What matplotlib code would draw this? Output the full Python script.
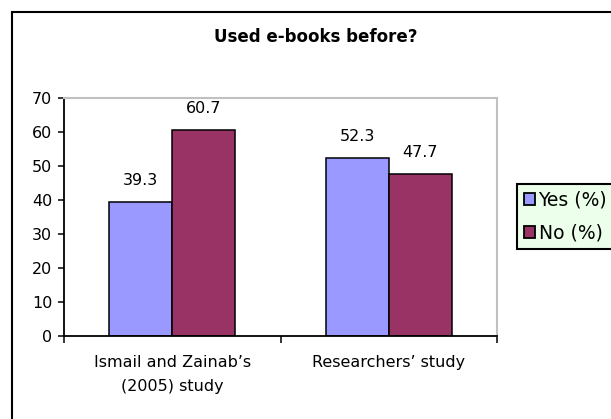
import matplotlib
matplotlib.use("Agg")
import matplotlib.pyplot as plt
from matplotlib.patches import Rectangle, Patch
import numpy as np

categories = ["Ismail and Zainab\u2019s\n(2005) study", "Researchers\u2019 study"]
series_names = ["Yes (%)", "No (%)"]
yes_values = [39.3, 52.3]
no_values = [60.7, 47.7]
y_ticks = [0, 10, 20, 30, 40, 50, 60, 70]
title = "Used e-books before?"

plt.rcParams['font.family'] = ['DejaVu Sans']

W, H = 611, 419
fig = plt.figure(figsize=(W / 100, H / 100), dpi=100)
fig.patch.set_facecolor("white")

# outer chart border (extends past right/bottom edges)
fig.patches.append(Rectangle((11.5 / W, -0.05), 1.2, 1 - 12.5 / H + 0.05,
                             transform=fig.transFigure, fill=False,
                             edgecolor="black", linewidth=1.5))

ax = fig.add_axes([64 / W, 1 - 336 / H, (497 - 64) / W, (336 - 98) / H])

x = np.arange(len(categories))
bw = 0.29
colors = ["#9999FF", "#993366"]
b1 = ax.bar(x - bw / 2, yes_values, bw, color=colors[0], edgecolor="black", linewidth=1.1, label=series_names[0])
b2 = ax.bar(x + bw / 2, no_values, bw, color=colors[1], edgecolor="black", linewidth=1.1, label=series_names[1])

for bars in (b1, b2):
    for r in bars:
        ax.annotate(f"{r.get_height():.1f}", (r.get_x() + r.get_width() / 2, r.get_height()),
                    xytext=(0, 15.5), textcoords="offset points", ha="center", va="center",
                    fontsize=11.5)

ax.set_xlim(-0.5, 1.5)
ax.set_ylim(0, 70)
ax.set_yticks(y_ticks)
ax.tick_params(axis="y", direction="out", length=4, width=1.1, labelsize=11.5, pad=4.5)
ax.set_xticks(x)
ax.set_xticklabels(categories, fontsize=11.5, linespacing=1.75)
ax.tick_params(axis="x", which="major", length=0, pad=14)
ax.set_xticks([-0.5, 0.5, 1.5], minor=True)
ax.tick_params(axis="x", which="minor", direction="out", length=5, width=1.1)

for s in ("left", "bottom"):
    ax.spines[s].set_color("black")
    ax.spines[s].set_linewidth(1.3)
for s in ("top", "right"):
    ax.spines[s].set_color("#C0C0C0")
    ax.spines[s].set_linewidth(1.5)

fig.text(316 / W, 1 - 37 / H, title, ha="center", va="center", fontsize=12, fontweight="bold")

handles = [Patch(facecolor=colors[0], edgecolor="black", linewidth=1.3),
           Patch(facecolor=colors[1], edgecolor="black", linewidth=1.3)]
leg = fig.legend(handles, series_names, loc="upper left",
                 bbox_to_anchor=(517 / W, 1 - 184 / H), bbox_transform=fig.transFigure,
                 frameon=True, fancybox=False, fontsize=13.5, handlelength=0.6, handleheight=0.6,
                 handletextpad=0.2, borderpad=0.35, labelspacing=0.75, borderaxespad=0)
fr = leg.get_frame()
fr.set_facecolor("#EBFFEB")
fr.set_edgecolor("black")
fr.set_linewidth(1.5)
fr.set_alpha(1)

fig.savefig("out.png", dpi=100)
